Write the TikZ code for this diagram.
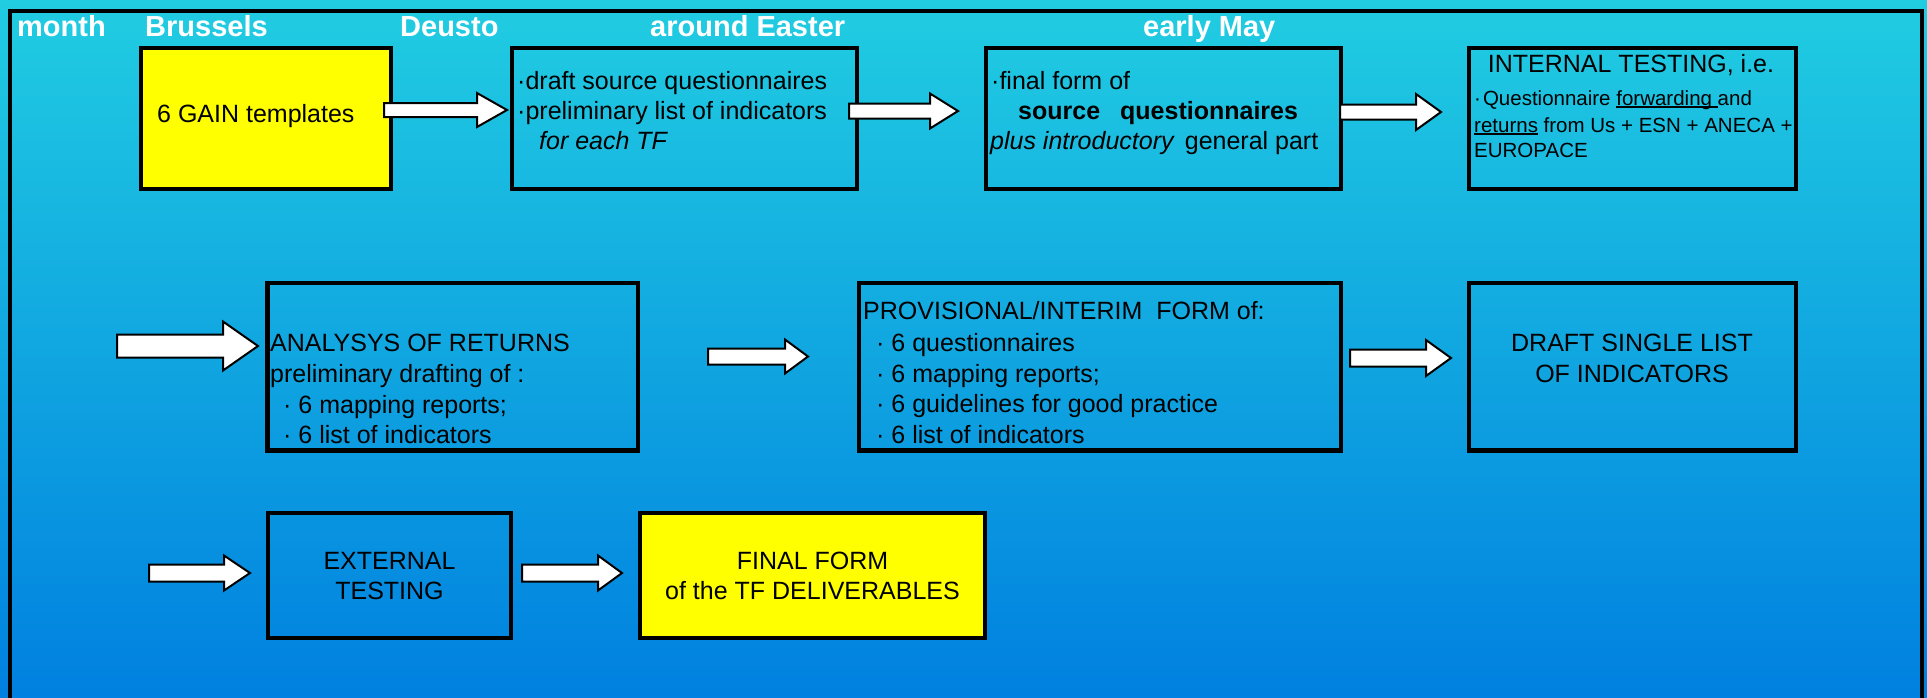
\documentclass[tikz,border=0pt]{standalone}
\usepackage{fontspec}
\setmainfont{Liberation Sans}
\usetikzlibrary{calc}
\definecolor{bgtop}{RGB}{33,205,225}
\definecolor{bgmid}{RGB}{24,172,228}
\definecolor{bgbot}{RGB}{0,128,224}
\definecolor{boxyellow}{RGB}{255,255,0}
\newcommand\ulin[1]{\setbox0\hbox{#1}\rlap{\rule[-2.5pt]{\wd0}{1.1pt}}\box0\relax}
% #1 start, #2 tip, #3 shaft half height, #4 head half height, #5 head length
\newcommand\myarrow[5]{%
  \draw[barrow] ($(#1)+(0,#3)$) -- ($(#2)+(-#5,#3)$) -- ($(#2)+(-#5,#4)$) -- (#2)
    -- ($(#2)+(-#5,-#4)$) -- ($(#2)+(-#5,-#3)$) -- ($(#1)+(0,-#3)$) -- cycle;}
\begin{document}
\begin{tikzpicture}[x=1pt,y=-1pt,
  box/.style={draw=black, line width=4.5pt, inner sep=0pt, rectangle},
  txt/.style={inner sep=0pt, font=\fontsize{25}{30}\selectfont, text=black},
  small/.style={inner sep=0pt, font=\fontsize{20.5}{26}\selectfont, text=black},
  hdr/.style={inner sep=0pt, font=\fontsize{29}{34}\selectfont\bfseries, text=white},
  barrow/.style={draw=black, fill=white, line width=2pt, line join=miter}]

\useasboundingbox (0,0) rectangle (1927,697);
\shade[top color=bgtop, middle color=bgmid, bottom color=bgbot] (0,0) rectangle (1927,697);
\clip (0,0) rectangle (1927,697);
\draw[line width=4pt] (10,740) -- (10,11) -- (1922,11) -- (1922,740);

% headers
\node[hdr, anchor=base west] (hmonth) at (17,36) {month};
\node[hdr, anchor=base west] (hbru) at (145,36) {Brussels};
\node[hdr, anchor=base west] (hdeu) at (400,36) {Deusto};
\node[hdr, anchor=base west] (heas) at (650,36) {around Easter};
\node[hdr, anchor=base west] (hmay) at (1143,36) {early May};

% row 1 boxes
\node[box, fill=boxyellow, minimum width=250pt, minimum height=141pt] (b1) at (266,118.5) {};
\node[box, minimum width=345pt, minimum height=141pt] (b2) at (684.5,118.5) {};
\node[box, minimum width=355pt, minimum height=141pt] (b3) at (1163.5,118.5) {};
\node[box, minimum width=327pt, minimum height=141pt] (b4) at (1632.5,118.5) {};

% row 2 boxes
\node[box, minimum width=370.5pt, minimum height=167.5pt] (b5) at (452.75,366.75) {};
\node[box, minimum width=482pt, minimum height=167.5pt] (b6) at (1100,366.75) {};
\node[box, minimum width=327pt, minimum height=167.5pt] (b7) at (1632.5,366.75) {};

% row 3 boxes
\node[box, minimum width=243pt, minimum height=125pt] (b8) at (389.5,575.5) {};
\node[box, fill=boxyellow, minimum width=345pt, minimum height=125pt] (b9) at (812.5,575.5) {};

% texts row 1
\node[txt, anchor=base west] (t1) at (157,122) {6 GAIN templates};
\node[txt, anchor=base west] (t2a) at (517,89) {·draft source questionnaires};
\node[txt, anchor=base west] (t2b) at (517,119) {·preliminary list of indicators};
\node[txt, anchor=base west] (t2c) at (539,149) {\itshape for each TF};
\node[txt, anchor=base west] (t3a) at (991,89) {·final form of};
\node[txt, anchor=base west] (t3b) at (1018,119) {\bfseries source\hspace{20pt}questionnaires};
\node[txt, anchor=base west] (t3c) at (990,149) {\textit{plus introductory}\hspace{10pt}general part};
\node[txt, anchor=base] (t4a) at (1631,72) {INTERNAL TESTING, i.e.};
\node[small, anchor=base west] (t4b) at (1474,105) {·\hspace{2pt}Questionnaire \ulin{forwarding }and};
\node[small, anchor=base west] (t4c) at (1474,132) {\ulin{returns} from Us + ESN + ANECA +};
\node[small, anchor=base west] (t4d) at (1474,157) {EUROPACE};

% texts row 2
\node[txt, anchor=base west] (t5a) at (270,351) {ANALYSYS OF RETURNS};
\node[txt, anchor=base west] (t5b) at (270,382) {preliminary drafting of :};
\node[txt, anchor=base west] (t5c) at (283,413) {· 6 mapping reports;};
\node[txt, anchor=base west] (t5d) at (283,443) {· 6 list of indicators};
\node[txt, anchor=base west] (t6a) at (863,319) {PROVISIONAL/INTERIM\ \ FORM of:};
\node[txt, anchor=base west] (t6b) at (876,351) {· 6 questionnaires};
\node[txt, anchor=base west] (t6c) at (876,382) {· 6 mapping reports;};
\node[txt, anchor=base west] (t6d) at (876,412) {· 6 guidelines for good practice};
\node[txt, anchor=base west] (t6e) at (876,443) {· 6 list of indicators};
\node[txt, anchor=base] (t7a) at (1632,351) {DRAFT SINGLE LIST};
\node[txt, anchor=base] (t7b) at (1632,382) {OF INDICATORS};

% texts row 3
\node[txt, anchor=base] (t8a) at (389.5,569) {EXTERNAL};
\node[txt, anchor=base] (t8b) at (389.5,599) {TESTING};
\node[txt, anchor=base] (t9a) at (812.5,569) {FINAL FORM};
\node[txt, anchor=base] (t9b) at (812.5,599) {of the TF DELIVERABLES};

% arrow end points
\coordinate (a1s) at (384,110);  \coordinate (a1e) at (507,110);
\coordinate (a2s) at (849,111);  \coordinate (a2e) at (958,111);
\coordinate (a3s) at (1340,112); \coordinate (a3e) at (1441,112);
\coordinate (a4s) at (117,346);  \coordinate (a4e) at (258,346);
\coordinate (a5s) at (708,356.5); \coordinate (a5e) at (808,356.5);
\coordinate (a6s) at (1350,358); \coordinate (a6e) at (1451,358);
\coordinate (a7s) at (149,573);  \coordinate (a7e) at (250,573);
\coordinate (a8s) at (522,573);  \coordinate (a8e) at (622,573);

\myarrow{a1s}{a1e}{7}{17}{30}
\myarrow{a2s}{a2e}{7.5}{17.5}{28}
\myarrow{a3s}{a3e}{7.5}{18}{25}
\myarrow{a4s}{a4e}{11.5}{24.5}{35}
\myarrow{a5s}{a5e}{8}{17}{23}
\myarrow{a6s}{a6e}{8.5}{18}{25}
\myarrow{a7s}{a7e}{8.5}{17.5}{26}
\myarrow{a8s}{a8e}{8.5}{17.5}{24}
\end{tikzpicture}
\end{document}
